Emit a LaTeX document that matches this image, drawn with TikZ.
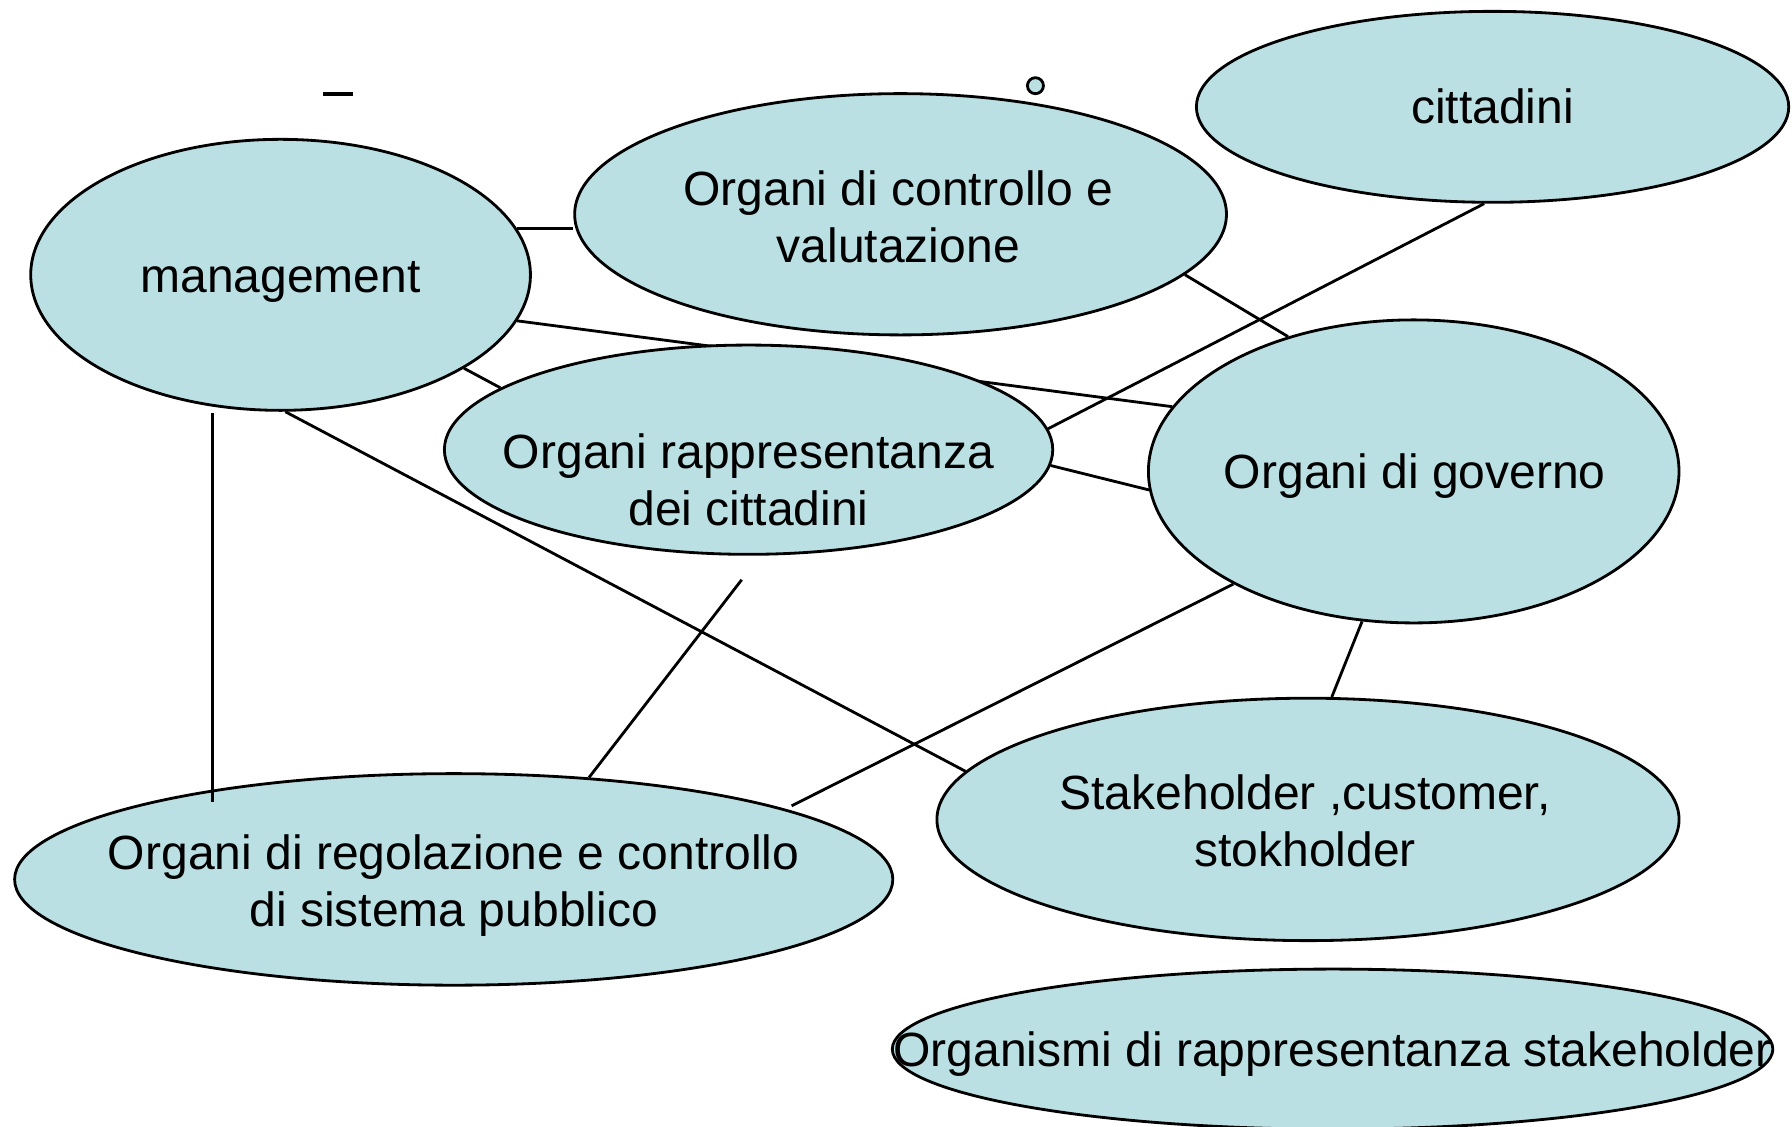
\documentclass[tikz,border=0pt]{standalone}
\usepackage{fontspec}
\setmainfont{Liberation Sans}
\usepackage{tikz}
\usetikzlibrary{shapes.geometric,calc,backgrounds}
\definecolor{bubblefill}{RGB}{187,224,227}

\begin{document}
\begin{tikzpicture}[x=0.01cm,y=-0.01cm,
    bubble/.style={ellipse,draw,line width=0.7pt,fill=bubblefill,inner sep=0pt},
    bubbletext/.style={align=center,inner sep=0pt,font=\fontsize{11.95}{14.2}\selectfont},
    link/.style={line width=0.7pt}]
    \useasboundingbox (0,0) rectangle (1568,986);

    % Stray marks at the top
    \draw[line width=0.9pt] (283,82) -- (309,82);
    \node[circle,draw,line width=0.7pt,fill=bubblefill,minimum size=0.14cm,inner sep=0pt] (dot) at (906,75) {};

    % Ellipses
    \node[bubble,minimum width=4.37cm,minimum height=2.37cm] (mgmt) at (245.5,240.5) {};
    \node[bubble,minimum width=5.70cm,minimum height=2.11cm] (ctrl) at (788,187.5) {};
    \node[bubble,minimum width=5.18cm,minimum height=1.67cm] (citt) at (1306,93.5) {};
    \node[bubble,minimum width=4.64cm,minimum height=2.65cm] (gov) at (1237,412.5) {};
    \node[bubble,minimum width=5.32cm,minimum height=1.83cm] (rapp) at (655,393.5) {};
    \node[bubble,minimum width=6.49cm,minimum height=2.12cm] (stake) at (1144.5,717) {};
    \node[bubble,minimum width=7.68cm,minimum height=1.85cm] (reg) at (397,769.5) {};
    \node[bubble,minimum width=7.70cm,minimum height=1.40cm] (orgst) at (1166,918) {};

    % Labels
    \node[bubbletext] (mgmt-t) at (245.5,247) {management};
    \node[bubbletext] (ctrl-t) at (786,189.5) {Organi di controllo e\\valutazione};
    \node[bubbletext] (citt-t) at (1306,93) {cittadini};
    \node[bubbletext] (gov-t) at (1238,417) {Organi di governo};
    \node[bubbletext] (rapp-t) at (655,420) {Organi rappresentanza\\dei cittadini};
    \node[bubbletext] (stake-t) at (1142,718.5) {Stakeholder ,customer,\\stokholder};
    \node[bubbletext] (reg-t) at (397,774.5) {Organi di regolazione e controllo\\di sistema pubblico};
    \node[bubbletext] (orgst-t) at (1166,922) {Organismi di rappresentanza stakeholder};

    % Connectors
    \begin{scope}[on background layer]
        \draw[link] (mgmt.-11) -- (gov.165);
    \end{scope}
    \draw[link] (mgmt.11.1) -- (mgmt.11.1 -| ctrl.west);
    \draw[link] (mgmt.-27) -- (rapp.166);
    \draw[link] ($(mgmt.south)+(-59.5,1)$) -- ($(reg.north)+(-211,26)$);
    \draw[link] (mgmt.-88) -- (stake.172.3);
    \draw[link] (ctrl.-12) -- (gov.133);
    \draw[link] (citt.-95.5) -- (rapp.4.9);
    \draw[link] (rapp.-3) -- (gov.-176.3);
    \coordinate (rapp-foot) at ($(rapp.south)+(-6,21)$);
    \draw[link] (rapp-foot) -- (reg.37);
    \draw[link,shorten >=0.06cm] (gov.-148.4) -- (reg.12.3);
    \draw[link] (gov.-109.1) -- (stake.79.1);
\end{tikzpicture}
\end{document}
